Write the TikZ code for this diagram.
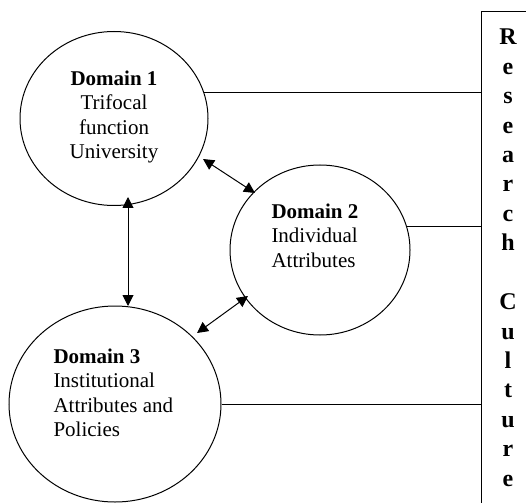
\documentclass[tikz,border=0pt]{standalone}
\usepackage{fontspec}
\setmainfont{Liberation Serif}
\usetikzlibrary{arrows.meta,shapes.geometric}
\begin{document}
\begin{tikzpicture}[x=1pt,y=-1pt,line width=1pt,
  dom/.style={draw,ellipse,inner sep=0pt},
  domtext/.style={inner sep=0pt,font=\fontsize{21}{24.5}\selectfont},
  letter/.style={inner sep=0pt,anchor=base,font=\fontsize{24}{24}\selectfont\bfseries},
  link/.style={draw},
  biarrow/.style={{Triangle[length=11pt,width=11pt]}-{Triangle[length=11pt,width=11pt]}}]
\useasboundingbox (0,0) rectangle (526,502);
\begin{scope}
\clip (0,0) rectangle (526,502);
% domains
\node[dom,minimum width=188pt,minimum height=174pt] (c1) at (114,118.5) {};
\node[dom,minimum width=180pt,minimum height=170pt] (c2) at (320,250) {};
\node[dom,minimum width=212pt,minimum height=196pt] (c3) at (115,404) {};
% texts
\node[domtext,align=center,anchor=north] (t1) at (114,70)
  {\textbf{Domain 1}\\Trifocal\\function\\University};
\node[domtext,align=left,anchor=north west] (t2) at (271,203)
  {\textbf{Domain 2}\\Individual\\Attributes};
\node[domtext,align=left,anchor=north west] (t3) at (53,348)
  {\textbf{Domain 3}\\Institutional\\Attributes and\\Policies};
% research culture box
\node[draw,anchor=north west,minimum width=80pt,minimum height=520pt,inner sep=0pt] (box) at (481,11) {};
\foreach \ch [count=\i from 0] in {R,e,s,e,a,r,c,h,{},C,u,l,t,u,r,e}
  \node[letter] (l\i) at (508,45+29.4*\i) {\ch};
% connectors to box
\draw[link] (c1.16) -- (c1.16 -| box.west);
\draw[link] (c2.15.5) -- (c2.15.5 -| box.west);
\draw[link] (c3.east) -- (c3.east -| box.west);
% arrows
\coordinate (a1) at (128,197);
\coordinate (a3) at (128,306);
\draw[biarrow] (a1) -- (a3);
\coordinate (b1) at (203,159);
\coordinate (b2) at (255,193);
\draw[biarrow] (b1) -- (b2);
\coordinate (d2) at (248,296);
\coordinate (d3) at (197,333);
\draw[biarrow] (d2) -- (d3);
\end{scope}
\end{tikzpicture}
\end{document}
